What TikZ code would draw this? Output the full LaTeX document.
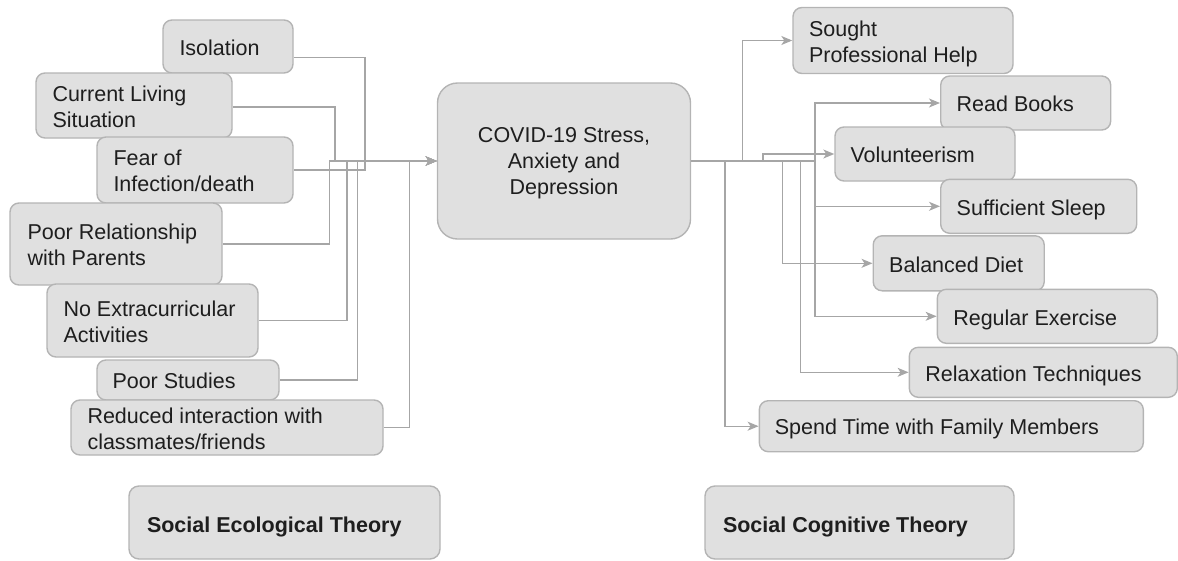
\documentclass[tikz,border=0pt]{standalone}
\usepackage{fontspec}
\setmainfont{Liberation Sans}
\usetikzlibrary{arrows.meta,calc}
\definecolor{boxfill}{HTML}{E0E0E0}
\definecolor{boxline}{HTML}{B4B4B4}
\definecolor{linecol}{HTML}{A6A6A6}
\definecolor{txtcol}{HTML}{1E1E1E}
\begin{document}
\begin{tikzpicture}[x=1pt,y=-1pt,
 box/.style={draw=boxline, fill=boxfill, line width=1.4pt, rounded corners=9pt, inner sep=0pt},
 txt/.style={inner sep=0pt, align=left, text=txtcol, font=\fontsize{21.5}{26}\selectfont, anchor=west, text depth=0pt, yshift=-1pt},
 boldtxt/.style={txt, font=\fontsize{21.5}{26}\selectfont\bfseries},
 conn/.style={draw=linecol, line width=1.3pt, -{Stealth[length=11pt,width=9pt,inset=3pt]}},
]
\useasboundingbox (0,0) rectangle (1178,560);

% left boxes
\node[box, minimum width=130pt, minimum height=53pt] (iso) at (228,46.5) {};
\node[txt] (isoT) at ([xshift=17pt]iso.west) {Isolation};
\node[box, minimum width=196pt, minimum height=65pt] (cls) at (134,105.5) {};
\node[txt] (clsT) at ([xshift=17pt]cls.west) {Current Living\\Situation};
\node[box, minimum width=196pt, minimum height=66pt] (fear) at (195,170) {};
\node[txt] (fearT) at ([xshift=17pt]fear.west) {Fear of\\Infection/death};
\node[box, minimum width=212pt, minimum height=82pt] (prp) at (116,244) {};
\node[txt] (prpT) at ([xshift=18pt]prp.west) {Poor Relationship\\with Parents};
\node[box, minimum width=211pt, minimum height=73pt] (nea) at (152.5,320.5) {};
\node[txt] (neaT) at ([xshift=17pt]nea.west) {No Extracurricular\\Activities};
\node[box, minimum width=182pt, minimum height=40pt] (ps) at (188,380) {};
\node[txt] (psT) at ([xshift=16pt]ps.west) {Poor Studies};
\node[box, minimum width=312pt, minimum height=55pt] (rif) at (227,427.5) {};
\node[txt] (rifT) at ([xshift=17pt]rif.west) {Reduced interaction with\\classmates/friends};

% centre
\node[box, rounded corners=20pt, minimum width=253pt, minimum height=156pt,
      align=center, text=txtcol, text depth=0pt, font=\fontsize{21.5}{26}\selectfont] (cov) at (564,161)
      {COVID-19 Stress,\\Anxiety and\\Depression};

% right boxes
\node[box, minimum width=220pt, minimum height=66pt] (sph) at (903,40.5) {};
\node[txt] (sphT) at ([xshift=16.5pt]sph.west) {Sought\\Professional Help};
\node[box, minimum width=170pt, minimum height=54pt] (rb) at (1025.7,103) {};
\node[txt] (rbT) at ([xshift=16.5pt]rb.west) {Read Books};
\node[box, minimum width=180pt, minimum height=54pt] (vol) at (925,154) {};
\node[txt] (volT) at ([xshift=16pt]vol.west) {Volunteerism};
\node[box, minimum width=196pt, minimum height=54pt] (ss) at (1038.7,206.3) {};
\node[txt] (ssT) at ([xshift=16.5pt]ss.west) {Sufficient Sleep};
\node[box, minimum width=171pt, minimum height=55pt] (bd) at (958.7,263.3) {};
\node[txt] (bdT) at ([xshift=16.5pt]bd.west) {Balanced Diet};
\node[box, minimum width=220pt, minimum height=54pt] (re) at (1047.3,316.3) {};
\node[txt] (reT) at ([xshift=16.5pt]re.west) {Regular Exercise};
\node[box, minimum width=268pt, minimum height=50pt] (rt) at (1043.3,372.3) {};
\node[txt] (rtT) at ([xshift=16.5pt]rt.west) {Relaxation Techniques};
\node[box, minimum width=384pt, minimum height=51pt] (stf) at (951.3,426.2) {};
\node[txt] (stfT) at ([xshift=16pt]stf.west) {Spend Time with Family Members};

% bottom
\node[box, rounded corners=10pt, minimum width=311pt, minimum height=73pt] (set) at (284.5,522.5) {};
\node[boldtxt] (setT) at ([xshift=18.5pt,yshift=-1pt]set.west) {Social Ecological Theory};
\node[box, rounded corners=10pt, minimum width=309pt, minimum height=73pt] (sct) at (859.5,522.5) {};
\node[boldtxt] (sctT) at ([xshift=18.5pt,yshift=-1pt]sct.west) {Social Cognitive Theory};

% left connectors
\draw[conn] ([yshift=-11.2pt]iso.east) -| ([xshift=-71.8pt]cov.west) -- (cov.west);
\draw[conn] ([yshift=-1.5pt]cls.east) -| ([xshift=-101.8pt]cov.west) -- (cov.west);
\draw[conn] (fear.east) -| ([xshift=-71.8pt]cov.west) -- (cov.west);
\draw[conn] (prp.east) -| ([xshift=-107.5pt]cov.west) -- (cov.west);
\draw[conn] (nea.east) -| ([xshift=-89.8pt]cov.west) -- (cov.west);
\draw[conn] (ps.east) -| ([xshift=-79.2pt]cov.west) -- (cov.west);
\draw[conn] (rif.east) -| ([xshift=-27.5pt]cov.west) -- (cov.west);

% right connectors
\draw[conn] (cov.east) -- ([xshift=51.2pt]cov.east) |- (sph.west);
\draw[conn] (cov.east) -- ([xshift=123.8pt]cov.east) |- (rb.west);
\draw[conn] (cov.east) -- ([xshift=71.8pt]cov.east) |- (vol.west);
\draw[conn] (cov.east) -- ([xshift=123.8pt]cov.east) |- (ss.west);
\draw[conn] (cov.east) -- ([xshift=91.2pt]cov.east) |- (bd.west);
\draw[conn] (cov.east) -- ([xshift=123.8pt]cov.east) |- (re.west);
\draw[conn] (cov.east) -- ([xshift=109.5pt]cov.east) |- (rt.west);
\draw[conn] (cov.east) -- ([xshift=33.8pt]cov.east) |- (stf.west);
\end{tikzpicture}
\end{document}
